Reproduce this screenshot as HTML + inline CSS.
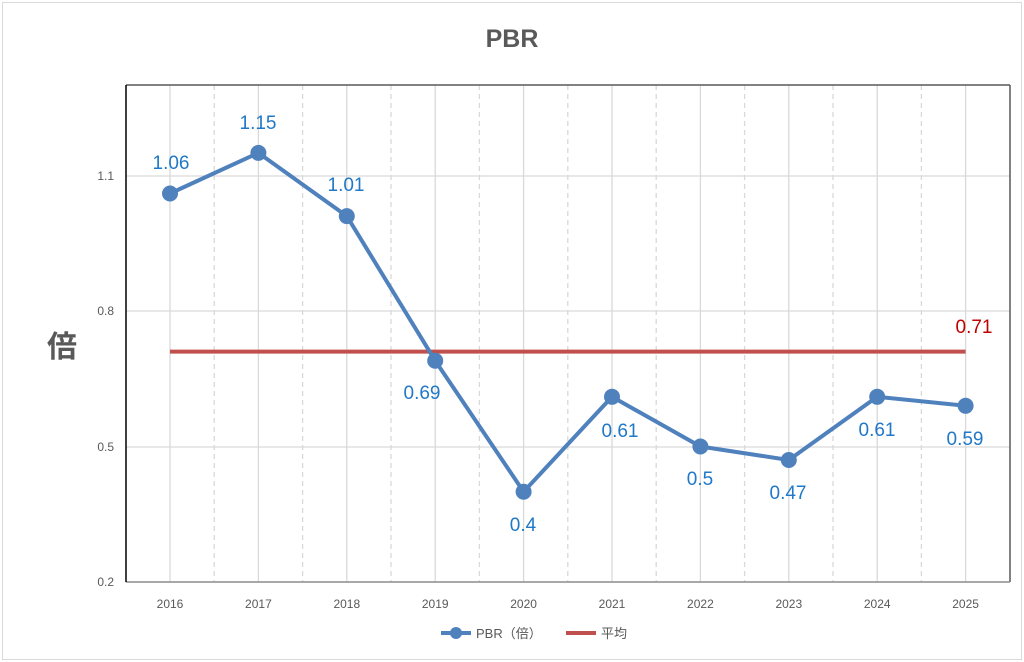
<!DOCTYPE html>
<html><head><meta charset="utf-8"><style>body{margin:0;background:#fff}svg{display:block}</style></head><body>
<svg width="1024" height="662" xmlns="http://www.w3.org/2000/svg" font-family="Liberation Sans, Noto Sans CJK JP, sans-serif">
<rect x="2.5" y="2.5" width="1019" height="657" fill="#fff" stroke="#d9d9d9"/>
<text x="512" y="47" text-anchor="middle" font-size="25" font-weight="bold" fill="#595959">PBR</text>
<g stroke="#d9d9d9" stroke-width="1.3">
<line x1="126" y1="176" x2="1010" y2="176"/><line x1="126" y1="311" x2="1010" y2="311"/><line x1="126" y1="447" x2="1010" y2="447"/>
<line x1="170" y1="85" x2="170" y2="582"/><line x1="258.4" y1="85" x2="258.4" y2="582"/><line x1="346.8" y1="85" x2="346.8" y2="582"/><line x1="435.2" y1="85" x2="435.2" y2="582"/><line x1="523.6" y1="85" x2="523.6" y2="582"/><line x1="612" y1="85" x2="612" y2="582"/><line x1="700.4" y1="85" x2="700.4" y2="582"/><line x1="788.8" y1="85" x2="788.8" y2="582"/><line x1="877.2" y1="85" x2="877.2" y2="582"/><line x1="965.6" y1="85" x2="965.6" y2="582"/>
</g>
<g stroke="#d9d9d9" stroke-width="1.3" stroke-dasharray="5,4">
<line x1="214.2" y1="85" x2="214.2" y2="582"/><line x1="302.6" y1="85" x2="302.6" y2="582"/><line x1="391" y1="85" x2="391" y2="582"/><line x1="479.4" y1="85" x2="479.4" y2="582"/><line x1="567.8" y1="85" x2="567.8" y2="582"/><line x1="656.2" y1="85" x2="656.2" y2="582"/><line x1="744.6" y1="85" x2="744.6" y2="582"/><line x1="833" y1="85" x2="833" y2="582"/><line x1="921.4" y1="85" x2="921.4" y2="582"/>
</g>
<line x1="126" y1="85" x2="1010" y2="85" stroke="#595959" stroke-width="1.5"/>
<line x1="1010" y1="85" x2="1010" y2="582" stroke="#595959" stroke-width="1.5"/>
<line x1="126" y1="582" x2="1010" y2="582" stroke="#8c8c8c" stroke-width="1.5"/>
<line x1="126" y1="85" x2="126" y2="582" stroke="#000" stroke-width="1.5"/>
<g font-size="12" fill="#595959" text-anchor="end">
<text x="114" y="180">1.1</text><text x="114" y="315">0.8</text><text x="114" y="451">0.5</text><text x="114" y="586">0.2</text>
</g>
<g font-size="12" fill="#595959" text-anchor="middle">
<text x="170" y="608">2016</text><text x="258.4" y="608">2017</text><text x="346.8" y="608">2018</text><text x="435.2" y="608">2019</text><text x="523.6" y="608">2020</text><text x="612" y="608">2021</text><text x="700.4" y="608">2022</text><text x="788.8" y="608">2023</text><text x="877.2" y="608">2024</text><text x="965.6" y="608">2025</text>
</g>
<text x="62" y="357" text-anchor="middle" font-size="30" font-weight="bold" fill="#595959">倍</text>
<line x1="170" y1="351.6" x2="965.6" y2="351.6" stroke="#c0504d" stroke-width="4"/>
<polyline fill="none" stroke="#4f81bd" stroke-width="4" stroke-linejoin="round" points="170,193.5 258.4,152.9 346.8,216.1 435.2,360.7 523.6,491.7 612,396.8 700.4,446.5 788.8,460 877.2,396.8 965.6,405.8"/>
<g fill="#4f81bd">
<circle cx="170" cy="193.5" r="8"/><circle cx="258.4" cy="152.9" r="8"/><circle cx="346.8" cy="216.1" r="8"/><circle cx="435.2" cy="360.7" r="8"/><circle cx="523.6" cy="491.7" r="8"/><circle cx="612" cy="396.8" r="8"/><circle cx="700.4" cy="446.5" r="8"/><circle cx="788.8" cy="460" r="8"/><circle cx="877.2" cy="396.8" r="8"/><circle cx="965.6" cy="405.8" r="8"/>
</g>
<g font-size="19" fill="#1f78c8" text-anchor="middle">
<text x="171" y="169">1.06</text><text x="258" y="129">1.15</text><text x="346" y="191">1.01</text><text x="422" y="399">0.69</text><text x="523" y="531">0.4</text><text x="620" y="437">0.61</text><text x="700" y="485">0.5</text><text x="788" y="499">0.47</text><text x="877" y="436">0.61</text><text x="965" y="445">0.59</text>
</g>
<text x="974" y="333" text-anchor="middle" font-size="19" fill="#c00000">0.71</text>
<line x1="441" y1="633" x2="471" y2="633" stroke="#4f81bd" stroke-width="4"/>
<circle cx="456" cy="633" r="6" fill="#4f81bd"/>
<text x="476" y="638" font-size="13" fill="#595959">PBR（倍）</text>
<line x1="566" y1="633" x2="596" y2="633" stroke="#c0504d" stroke-width="4"/>
<text x="601" y="638" font-size="13" fill="#595959">平均</text>
</svg>
</body></html>
